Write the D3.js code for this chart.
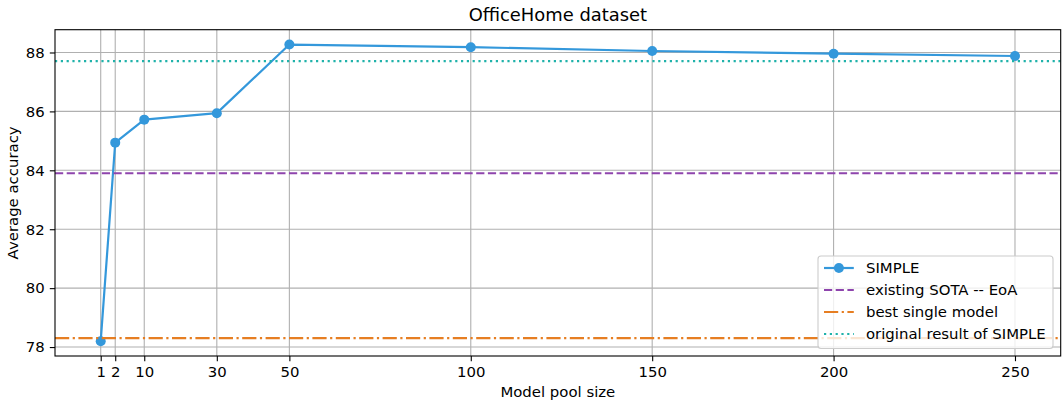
<!DOCTYPE html>
<html>
<head>
<meta charset="utf-8">
<script src="https://cdn.jsdelivr.net/npm/d3@7"></script>
<style>
  html, body { margin: 0; padding: 0; background: #fff; }
  svg { display: block; }
  text { font-family: "DejaVu Sans", sans-serif; fill: #000; }
</style>
</head>
<body>
<div id="chart"></div>
<script>
// ---- data ----
const poolSizeLabels = ["1", "2", "10", "30", "50", "100", "150", "200", "250"];
const poolSizePositions = [-2, 2, 10, 30, 50, 100, 150, 200, 250];
const simpleAccuracy = [78.2, 84.94, 85.72, 85.94, 88.27, 88.18, 88.05, 87.96, 87.88];
const existingSota = 83.9;
const bestSingle = 78.3;
const originalSimple = 87.71;
const yTicks = [78, 80, 82, 84, 86, 88];
const legendLabels = ["SIMPLE", "existing SOTA -- EoA", "best single model", "original result of SIMPLE"];

const W = 1062, H = 401;
const margin = { left: 55, right: 1062 - 1060.7, top: 29.7, bottom: 401 - 356 };
const fs = 14.9, titleFs = 17.9;

const svg = d3.select("#chart").append("svg").attr("width", W).attr("height", H);

// matplotlib-like 5% margins
const xMin = d3.min(poolSizePositions), xMax = d3.max(poolSizePositions);
const xPad = (xMax - xMin) * 0.05;
const yMin = d3.min(simpleAccuracy.concat([bestSingle])), yMax = d3.max(simpleAccuracy);
const yPad = (yMax - yMin) * 0.05;

const x = d3.scaleLinear().domain([xMin - xPad, xMax + xPad]).range([margin.left, W - margin.right]);
const y = d3.scaleLinear().domain([yMin - yPad, yMax + yPad]).range([H - margin.bottom, margin.top]);

const pl = margin.left, pr = W - margin.right, pt = margin.top, pb = H - margin.bottom;

// grid
const grid = svg.append("g").attr("stroke", "#b0b0b0").attr("stroke-width", 1.1);
grid.selectAll("line.gx").data(poolSizePositions).join("line")
  .attr("x1", d => x(d)).attr("x2", d => x(d)).attr("y1", pt).attr("y2", pb);
grid.selectAll("line.gy").data(yTicks).join("line")
  .attr("y1", d => y(d)).attr("y2", d => y(d)).attr("x1", pl).attr("x2", pr);

// clip
svg.append("clipPath").attr("id", "clip").append("rect")
  .attr("x", pl).attr("y", pt).attr("width", pr - pl).attr("height", pb - pt);
const plot = svg.append("g").attr("clip-path", "url(#clip)");

const blue = "#3498db", purple = "#8e44ad", orange = "#e67e22", teal = "#20b2aa";
const lw = 2.2;

// SIMPLE line
const pts = poolSizePositions.map((p, i) => [p, simpleAccuracy[i]]);
plot.append("path").datum(pts)
  .attr("d", d3.line().x(d => x(d[0])).y(d => y(d[1])))
  .attr("fill", "none").attr("stroke", blue).attr("stroke-width", lw).attr("stroke-linejoin", "round");
plot.selectAll("circle.pt").data(pts).join("circle")
  .attr("cx", d => x(d[0])).attr("cy", d => y(d[1])).attr("r", 5).attr("fill", blue);

// horizontal references
const refs = [
  { v: existingSota, color: purple, dash: "8.2,3.5" },
  { v: bestSingle, color: orange, dash: "14.2,3.5,2.2,3.5" },
  { v: originalSimple, color: teal, dash: "2.2,3.6" }
];
plot.selectAll("line.ref").data(refs).join("line")
  .attr("x1", pl).attr("x2", pr)
  .attr("y1", d => y(d.v)).attr("y2", d => y(d.v))
  .attr("stroke", d => d.color).attr("stroke-width", lw).attr("stroke-dasharray", d => d.dash);

// axes
const xAxis = d3.axisBottom(x).tickValues(poolSizePositions)
  .tickFormat((d, i) => poolSizeLabels[i]).tickSize(5.2).tickPadding(5.2);
const gx = svg.append("g").attr("transform", `translate(0,${pb})`).call(xAxis);
const yAxis = d3.axisLeft(y).tickValues(yTicks).tickFormat(d3.format("d")).tickSize(5.2).tickPadding(5.2);
const gy = svg.append("g").attr("transform", `translate(${pl},0)`).call(yAxis);
[gx, gy].forEach(g => {
  g.select(".domain").remove();
  g.selectAll(".tick line").attr("stroke", "#000").attr("stroke-width", 1.1);
  g.selectAll(".tick text").attr("font-size", fs + "px").attr("font-family", "DejaVu Sans").attr("fill", "#000");
});

// spines
svg.append("rect").attr("x", pl).attr("y", pt).attr("width", pr - pl).attr("height", pb - pt)
  .attr("fill", "none").attr("stroke", "#000").attr("stroke-width", 1.1);

// title & labels
svg.append("text").attr("x", (pl + pr) / 2).attr("y", 20.7).attr("text-anchor", "middle")
  .attr("font-size", titleFs + "px").text("OfficeHome dataset");
svg.append("text").attr("x", (pl + pr) / 2).attr("y", 396.5).attr("text-anchor", "middle")
  .attr("font-size", fs + "px").text("Model pool size");
svg.append("text").attr("transform", `translate(18,${(pt + pb) / 2}) rotate(-90)`).attr("text-anchor", "middle")
  .attr("font-size", fs + "px").text("Average accuracy");

// legend
const lg = svg.append("g");
const lx = 818, ly = 256, lwid = 1053 - 818, lh = 348.5 - 256;
lg.append("rect").attr("x", lx).attr("y", ly).attr("width", lwid).attr("height", lh)
  .attr("rx", 3).attr("fill", "#fff").attr("fill-opacity", 0.8).attr("stroke", "#ccc").attr("stroke-width", 1.1);
const legendItems = [
  { color: blue, dash: null, marker: true },
  { color: purple, dash: refs[0].dash },
  { color: orange, dash: refs[1].dash },
  { color: teal, dash: refs[2].dash }
];
legendItems.forEach((it, i) => {
  const yy = ly + 12 + i * 22;
  lg.append("line").attr("x1", lx + 6).attr("x2", lx + 35.8).attr("y1", yy).attr("y2", yy)
    .attr("stroke", it.color).attr("stroke-width", lw).attr("stroke-dasharray", it.dash);
  if (it.marker) lg.append("circle").attr("cx", lx + 20.9).attr("cy", yy).attr("r", 5).attr("fill", it.color);
  lg.append("text").attr("x", lx + 48).attr("y", yy + 5.3).attr("font-size", fs + "px").text(legendLabels[i]);
});
</script>
</body>
</html>
